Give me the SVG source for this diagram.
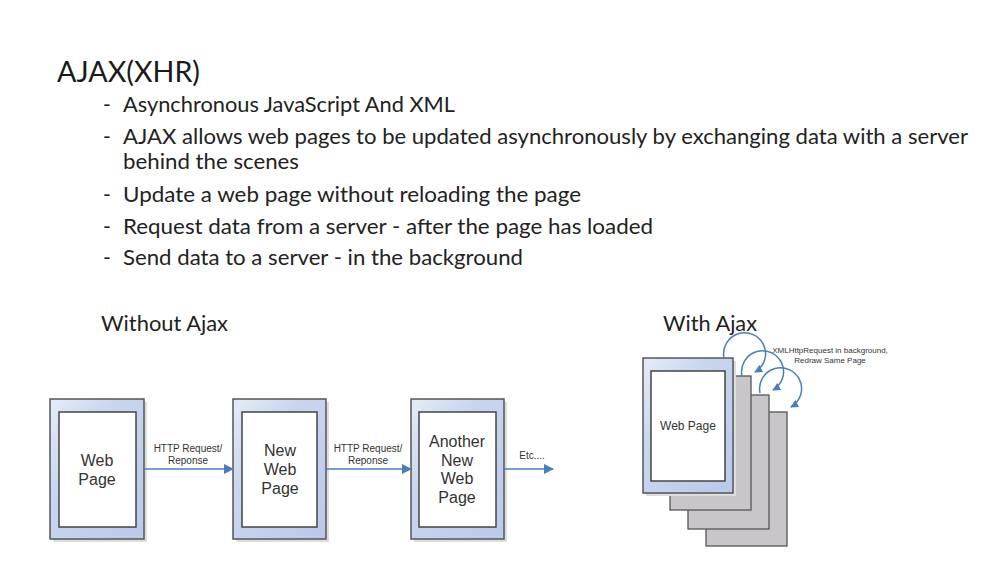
<svg xmlns="http://www.w3.org/2000/svg" width="987" height="583" viewBox="0 0 987 583">
<defs>
<linearGradient id="blue" x1="0" y1="0" x2="1" y2="1">
<stop offset="0" stop-color="#e6ecf8"/>
<stop offset="0.35" stop-color="#c9d6ef"/>
<stop offset="1" stop-color="#b9c9ea"/>
</linearGradient>
<marker id="arr" viewBox="0 0 10 10" refX="9" refY="5" markerWidth="10" markerHeight="10" markerUnits="userSpaceOnUse" orient="auto">
<path d="M0,0 L10,5 L0,10 z" fill="#4a7ebb"/>
</marker>
<marker id="arrs" viewBox="0 0 10 10" refX="9" refY="5" markerWidth="8" markerHeight="8" markerUnits="userSpaceOnUse" orient="auto">
<path d="M0,0 L10,5 L0,10 z" fill="#4a7ebb"/>
</marker>
</defs>
<style>
.h{font-family:Lato,"Liberation Sans",sans-serif;fill:#1a1a1a}
.b{font-family:Lato,"Liberation Sans",sans-serif;font-size:21px;fill:#222}
.d{font-family:"Liberation Sans",Arial,sans-serif;fill:#333;text-anchor:middle}
.outer{fill:url(#blue);stroke:#555;stroke-width:1.5}
.inner{fill:#fff;stroke:#444;stroke-width:1.5}
.shadow{fill:#ddd}
.gray{fill:#c9c6ca;stroke:#555;stroke-width:1.3}
.line{fill:none;stroke:#4a7ebb;stroke-width:1.5}
</style>
<rect width="987" height="583" fill="#fff"/>
<g id="text">
<text class="h" x="57" y="82" font-size="29" textLength="143" lengthAdjust="spacingAndGlyphs">AJAX(XHR)</text>
<text class="b" x="103" y="112">-</text>
<text class="b" x="123" y="112" textLength="332" lengthAdjust="spacingAndGlyphs">Asynchronous JavaScript And XML</text>
<text class="b" x="103" y="144">-</text>
<text class="b" x="123" y="144" textLength="845" lengthAdjust="spacingAndGlyphs">AJAX allows web pages to be updated asynchronously by exchanging data with a server</text>
<text class="b" x="123" y="169" textLength="176" lengthAdjust="spacingAndGlyphs">behind the scenes</text>
<text class="b" x="103" y="202">-</text>
<text class="b" x="123" y="202" textLength="458" lengthAdjust="spacingAndGlyphs">Update a web page without reloading the page</text>
<text class="b" x="103" y="234">-</text>
<text class="b" x="123" y="234" textLength="530" lengthAdjust="spacingAndGlyphs">Request data from a server - after the page has loaded</text>
<text class="b" x="103" y="265">-</text>
<text class="b" x="123" y="265" textLength="400" lengthAdjust="spacingAndGlyphs">Send data to a server - in the background</text>
<text class="b" x="101" y="331" textLength="127" lengthAdjust="spacingAndGlyphs">Without Ajax</text>
<text class="b" x="663" y="331" textLength="94" lengthAdjust="spacingAndGlyphs">With Ajax</text>
</g>
<g id="page1">
<rect class="shadow" x="53" y="402" width="94" height="140"/>
<rect class="outer" x="50" y="399" width="94" height="140"/>
<rect class="inner" x="59" y="412" width="77" height="115"/>
<text class="d" x="97" y="466" font-size="16">Web</text>
<text class="d" x="97" y="485" font-size="16">Page</text>
</g>
<g id="page2">
<rect class="shadow" x="236" y="402" width="93" height="140"/>
<rect class="outer" x="233" y="399" width="93" height="140"/>
<rect class="inner" x="242" y="412" width="75" height="115"/>
<text class="d" x="280" y="456" font-size="16">New</text>
<text class="d" x="280" y="475" font-size="16">Web</text>
<text class="d" x="280" y="494" font-size="16">Page</text>
</g>
<g id="page3">
<rect class="shadow" x="414" y="402" width="93" height="140"/>
<rect class="outer" x="411" y="399" width="93" height="140"/>
<rect class="inner" x="419" y="412" width="77" height="115"/>
<text class="d" x="457" y="447" font-size="16">Another</text>
<text class="d" x="457" y="466" font-size="16">New</text>
<text class="d" x="457" y="484" font-size="16">Web</text>
<text class="d" x="457" y="503" font-size="16">Page</text>
</g>
<g id="ajaxpages">
<rect class="gray" x="706" y="412" width="81" height="134"/>
<rect class="gray" x="688" y="395" width="81" height="134"/>
<rect class="gray" x="670" y="376" width="81" height="134"/>
<rect class="shadow" x="646" y="361" width="90" height="135"/>
<rect class="outer" x="643" y="358" width="90" height="135"/>
<rect class="inner" x="651" y="371" width="74" height="110"/>
<text class="d" x="688" y="430" font-size="12">Web Page</text>
</g>
<g id="connectors">
<line class="line" x1="144" y1="469" x2="233" y2="469" marker-end="url(#arr)"/>
<line class="line" x1="326" y1="469" x2="411" y2="469" marker-end="url(#arr)"/>
<line class="line" x1="504" y1="469" x2="553" y2="469" marker-end="url(#arr)"/>
<text class="d" x="188" y="452" font-size="10">HTTP Request/</text>
<text class="d" x="188" y="464" font-size="10">Reponse</text>
<text class="d" x="368" y="452" font-size="10">HTTP Request/</text>
<text class="d" x="368" y="464" font-size="10">Reponse</text>
<text class="d" x="532" y="459" font-size="10">Etc....</text>
<path class="line" d="M724,358 A21,21 0 1 1 755,372" marker-end="url(#arrs)"/>
<path class="line" d="M742,376 A21,21 0 1 1 773,390" marker-end="url(#arrs)"/>
<path class="line" d="M760,393 A21,21 0 1 1 791,407" marker-end="url(#arrs)"/>
<text class="d" x="830" y="353" font-size="8">XMLHttpRequest in background,</text>
<text class="d" x="830" y="363" font-size="8">Redraw Same Page</text>
</g>
</svg>
